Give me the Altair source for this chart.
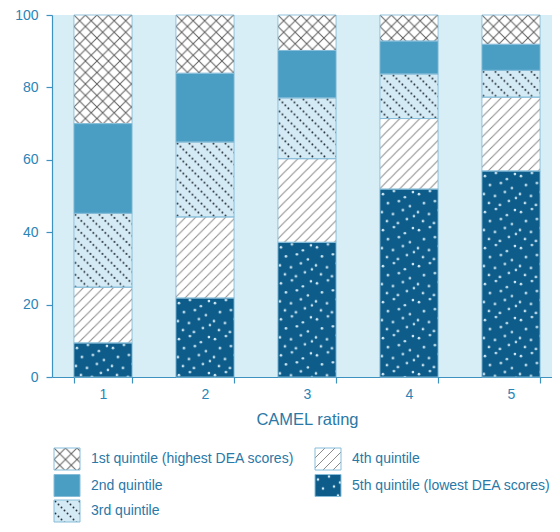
import altair as alt
import pandas as pd
from urllib.parse import quote

# ---------------- data ----------------
ratings = ["1", "2", "3", "4", "5"]
quintiles = [
    "1st quintile (highest DEA scores)",
    "2nd quintile",
    "3rd quintile",
    "4th quintile",
    "5th quintile (lowest DEA scores)",
]
# percentage of banks in each DEA quintile, per CAMEL rating
share_q1 = [30.0, 16.1, 9.8, 7.2, 8.1]
share_q2 = [24.8, 19.0, 13.1, 9.1, 7.2]
share_q3 = [20.4, 20.7, 16.8, 12.3, 7.4]
share_q4 = [15.4, 22.4, 23.1, 19.5, 20.4]
share_q5 = [9.4, 21.8, 37.2, 51.9, 56.9]
y_ticks = [0, 20, 40, 60, 80, 100]
x_title = "CAMEL rating"

# ---------------- styles ----------------
FONT = "Liberation Sans"
AXIS_C = "#3d92bf"
LABEL_C = "#2b84b6"
TEXT_C = "#2a78a6"
EDGE_C = "#86bcd8"
BG = "#d8eef7"
fill_colors = ["#ffffff", "#4a9ec4", "#d4eaf4", "#ffffff", "#0d5c8a"]


def svg_url(body, w, h):
    svg = (
        "<svg xmlns='http://www.w3.org/2000/svg' width='100%' height='100%'>"
        f"<defs><pattern id='p' patternUnits='userSpaceOnUse' width='{w}' height='{h}'>"
        f"{body}</pattern></defs>"
        "<rect x='0' y='0' width='100%' height='100%' fill='url(#p)'/></svg>"
    )
    return "data:image/svg+xml;charset=utf-8," + quote(svg, safe="")


cross = svg_url(
    "<path d='M0,0L11.5,11.5M11.5,0L0,11.5' stroke='#5e5e5e' stroke-width='1' fill='none'/>",
    11.5, 11.5)
dotted = svg_url(
    "".join(f"<circle cx='{1.5 + k * 3}' cy='{1.5 + k * 3}' r='0.95' fill='#27323c'/>" for k in range(4)),
    12, 12)
hatch = svg_url(
    "<path d='M0,10L10,0M-2,2L2,-2M8,12L12,8' stroke='#8a8a8a' stroke-width='1' fill='none'/>",
    10, 10)
_spk = [(3, 5), (14, 2), (25, 8), (33, 3), (8, 14), (19, 12), (30, 17), (2, 23),
        (13, 25), (23, 21), (34, 27), (7, 32), (18, 34), (27, 30)]
speckle = svg_url(
    "".join(f"<circle cx='{x}' cy='{y}' r='1.3' fill='#d2eaf5'/>" for x, y in _spk),
    36, 36)
pattern_urls = {quintiles[0]: cross, quintiles[2]: dotted, quintiles[3]: hatch, quintiles[4]: speckle}

# ---------------- tables ----------------
stack = [(quintiles[4], share_q5), (quintiles[3], share_q4), (quintiles[2], share_q3),
         (quintiles[1], share_q2), (quintiles[0], share_q1)]
rows = []
for i, r in enumerate(ratings):
    base = 0.0
    for q, s in stack:
        rows.append({"rating": r, "quintile": q, "start": base, "end": min(base + s[i], 100.0),
                     "url": pattern_urls.get(q, "")})
        base += s[i]
df = pd.DataFrame(rows)
df_pat = df[df["url"] != ""]

# legend layout (pixels in plot coordinates)
PLOT_W, PLOT_H = 510, 362
leg_col = [0, 0, 0, 1, 1]
leg_row = [0, 1, 2, 0, 1]
col_x = [2, 263]
row_y = [444, 470.5, 496]
SW_W, SW_H, TXT_DX = 26, 22, 37
leg = pd.DataFrame({
    "label": quintiles,
    "x0": [col_x[c] for c in leg_col],
    "yc": [row_y[r] for r in leg_row],
    "url": [pattern_urls.get(q, "") for q in quintiles],
})
leg["x1"] = leg["x0"] + SW_W
leg["y0"] = leg["yc"] - SW_H / 2
leg["y1"] = leg["yc"] + SW_H / 2
leg["tx"] = leg["x0"] + TXT_DX
leg_pat = leg[leg["url"] != ""]

# ---------------- chart ----------------
x = alt.X("rating:N", sort=ratings,
          scale=alt.Scale(paddingInner=0.43, paddingOuter=0.215),
          axis=alt.Axis(title=x_title, labelAngle=0, tickBand="extent"))
y = alt.Y("start:Q", scale=alt.Scale(domain=[0, 100], nice=False),
          axis=alt.Axis(title=None, values=y_ticks, grid=False, minExtent=44, maxExtent=44))
fill = alt.Fill("quintile:N", scale=alt.Scale(domain=quintiles, range=fill_colors), legend=None)

bars = alt.Chart(df).mark_bar(strokeWidth=0).encode(x=x, y=y, y2="end", fill=fill)
imgs = alt.Chart(df_pat).mark_image(aspect=False).encode(x=x, y=y, y2="end", url="url:N")
edges = alt.Chart(df).mark_bar(fillOpacity=0, stroke=EDGE_C, strokeWidth=0.9).encode(x=x, y=y, y2="end")

lx = alt.X("x0:Q", scale=None, axis=None)
ly = alt.Y("y0:Q", scale=None, axis=None)
leg_fill = alt.Chart(leg).mark_rect(strokeWidth=0).encode(
    x=lx, x2="x1", y=ly, y2="y1",
    fill=alt.Fill("label:N", scale=alt.Scale(domain=quintiles, range=fill_colors), legend=None))
leg_img = alt.Chart(leg_pat).mark_image(aspect=False).encode(x=lx, x2="x1", y=ly, y2="y1", url="url:N")
leg_edge = alt.Chart(leg).mark_rect(fillOpacity=0, stroke=EDGE_C, strokeWidth=1).encode(
    x=lx, x2="x1", y=ly, y2="y1")
leg_text = alt.Chart(leg).mark_text(align="left", baseline="middle", font=FONT, fontSize=14,
                                    color=TEXT_C).encode(
    x=alt.X("tx:Q", scale=None, axis=None), y=alt.Y("yc:Q", scale=None, axis=None), text="label:N")

# the plot runs past the right edge, as in the reference; the right padding trims it
chart = alt.layer(bars, imgs, edges, leg_fill, leg_img, leg_edge, leg_text).properties(
    width=PLOT_W, height=PLOT_H, padding={"top": 0, "left": 0, "right": -10, "bottom": 0}
).configure_view(fill=BG, stroke=None).configure_axis(
    domainColor=AXIS_C, tickColor=AXIS_C, tickSize=6, domainWidth=1.2, tickWidth=1.2,
    labelColor=LABEL_C, labelFont=FONT, labelFontSize=14, labelPadding=4,
    titleColor=TEXT_C, titleFont=FONT, titleFontSize=16.5, titleFontWeight="normal", titlePadding=10,
).configure_axisY(labelPadding=8)

chart.save("out.html", embed_options={"renderer": "svg", "actions": False})
